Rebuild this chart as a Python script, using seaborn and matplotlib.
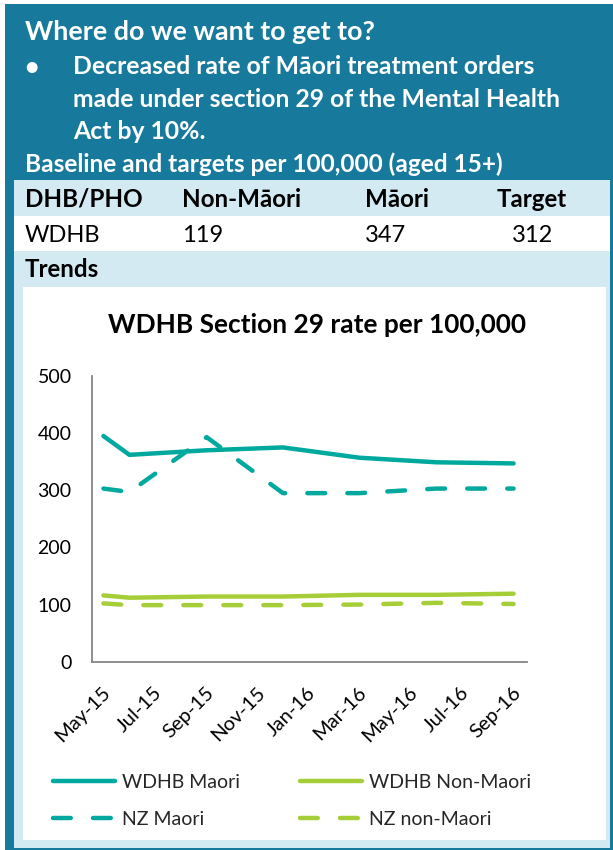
import pandas as pd
import matplotlib
matplotlib.use("Agg")
import matplotlib.pyplot as plt
import matplotlib.dates as mdates
import matplotlib.transforms as mtransforms
from matplotlib.patches import Rectangle
import seaborn as sns

# chart data (rate per 100,000)
dates = ["2015-05-15", "2015-06-15", "2015-09-15", "2015-12-15",
         "2016-03-15", "2016-06-15", "2016-09-15"]
wdhb_maori = [395, 362, 370, 375, 357, 349, 347]
wdhb_non_maori = [116, 112, 114, 114, 117, 117, 119]
nz_maori = [303, 297, 393, 295, 295, 303, 303]
nz_non_maori = [102, 99, 99, 99, 100, 103, 101]
series_names = ["WDHB Maori", "WDHB Non-Maori", "NZ Maori", "NZ non-Maori"]

# table above the chart
table_header = ["DHB/PHO", "Non-Māori", "Māori", "Target"]
table_row = ["WDHB", "119", "347", "312"]

bullet_lines = ["Decreased rate of Māori treatment orders",
                "made under section 29 of the Mental Health",
                "Act by 10%."]

DARK_BLUE = "#177a9c"
LIGHT_BLUE = "#d3eaf2"
TEAL = "#00a99d"
GREEN = "#a6ce39"
AXIS_GREY = "#868686"

W, H = 613, 850


def fx(x):
    return x / W


def fy(y):
    return 1 - y / H


def box(fig, x0, y0, x1, y1, color):
    fig.add_artist(Rectangle((fx(x0), fy(y1)), (x1 - x0) / W, (y1 - y0) / H,
                             transform=fig.transFigure, facecolor=color,
                             edgecolor="none", zorder=-5))


sns.set_style("white")
plt.rcParams["font.family"] = ["Lato", "DejaVu Sans"]

fig = plt.figure(figsize=(W / 100, H / 100), dpi=100)
fig.patch.set_facecolor("white")

# background panels
box(fig, 5, 4, 613, 850, DARK_BLUE)
box(fig, 14, 180, 610, 848, LIGHT_BLUE)
box(fig, 14, 216, 610, 251, "white")
box(fig, 23, 287, 606, 840, "white")

# header texts
fig.text(fx(25), fy(40), "Where do we want to get to?", color="white",
         fontsize=19.4, fontweight="bold", va="baseline")
fig.text(fx(24), fy(75), "•", color="white", fontsize=18, fontweight="bold", va="baseline")
for i, line in enumerate(bullet_lines):
    fig.text(fx(72.7), fy(74 + i * 32.7), line, color="white",
             fontsize=17.8, fontweight="bold", va="baseline")
fig.text(fx(25), fy(171.7), "Baseline and targets per 100,000 (aged 15+)", color="white",
         fontsize=17.6, fontweight="bold", va="baseline")

col_x = [25, 181.7, 365, 497]
for x, txt in zip(col_x, table_header):
    fig.text(fx(x), fy(206.7), txt, color="black", fontsize=17.4, fontweight="bold", va="baseline")
for x, txt in zip(col_x[:3], table_row[:3]):
    fig.text(fx(x), fy(241.7), txt, color="black", fontsize=17, va="baseline")
fig.text(fx(533), fy(241.7), table_row[3], color="black", fontsize=17, va="baseline", ha="center")
fig.text(fx(25), fy(276.7), "Trends", color="black", fontsize=17.4, fontweight="bold", va="baseline")

fig.text(fx(317.5), fy(333.3), "WDHB Section 29 rate per 100,000", color="black",
         fontsize=18.9, fontweight="bold", va="baseline", ha="center")

# the line chart
ax = fig.add_axes([fx(91.7), fy(661.7), (527 - 91.7) / W, (661.7 - 376) / H])
ax.set_facecolor("none")

df = pd.DataFrame({
    "date": pd.to_datetime(dates * 4),
    "rate": wdhb_maori + wdhb_non_maori + nz_maori + nz_non_maori,
    "series": [s for s in series_names for _ in dates],
})
palette = dict(zip(series_names, [TEAL, GREEN, TEAL, GREEN]))
dash_map = {"WDHB Maori": "", "WDHB Non-Maori": "", "NZ Maori": (4, 5), "NZ non-Maori": (4, 5)}

sns.lineplot(data=df, x="date", y="rate", hue="series", style="series",
             hue_order=series_names, style_order=series_names,
             palette=palette, dashes=dash_map, linewidth=3.2, legend=False, ax=ax)

for line, name in zip(ax.lines, series_names):
    line.set_label(name)
    line.set_dash_capstyle("round")
    line.set_solid_capstyle("round")

ax.set_ylim(0, 500)
ax.set_yticks([0, 100, 200, 300, 400, 500])
ax.set_xlim(pd.Timestamp("2015-05-01"), pd.Timestamp("2016-10-01"))
ax.xaxis.set_major_locator(mdates.MonthLocator(bymonth=(1, 3, 5, 7, 9, 11)))
ax.xaxis.set_major_formatter(mdates.DateFormatter("%b-%y"))
ax.set_xlabel("")
ax.set_ylabel("")

sns.despine(ax=ax)
for side in ["left", "bottom"]:
    ax.spines[side].set_color(AXIS_GREY)
    ax.spines[side].set_linewidth(1.3)
ax.tick_params(axis="both", direction="out", length=5, width=1.3, color=AXIS_GREY,
               labelsize=14, labelcolor="black")
ax.tick_params(axis="y", pad=9.5)
ax.tick_params(axis="x", pad=11)

offset = mtransforms.ScaledTranslation(10 / 100, 0, fig.dpi_scale_trans)
for lab in ax.get_xticklabels():
    lab.set_rotation(45)
    lab.set_ha("right")
    lab.set_va("top")
    lab.set_rotation_mode("anchor")
    lab.set_fontsize(14.5)
    lab.set_transform(lab.get_transform() + offset)

# legend split into two columns placed like the original
handles, labels = ax.get_legend_handles_labels()
lookup = dict(zip(labels, handles))
leg_kw = dict(frameon=False, borderpad=0, borderaxespad=0, handlelength=3.2,
              handletextpad=0.35, labelspacing=1.05, fontsize=14,
              loc="center left", bbox_transform=fig.transFigure)
leg1 = ax.legend([lookup["WDHB Maori"], lookup["NZ Maori"]], ["WDHB Maori", "NZ Maori"],
                 bbox_to_anchor=(fx(53), fy(801)), **leg_kw)
ax.add_artist(leg1)
ax.legend([lookup["WDHB Non-Maori"], lookup["NZ non-Maori"]], ["WDHB Non-Maori", "NZ non-Maori"],
          bbox_to_anchor=(fx(300), fy(801)), **leg_kw)

fig.savefig("out.png", dpi=100)
